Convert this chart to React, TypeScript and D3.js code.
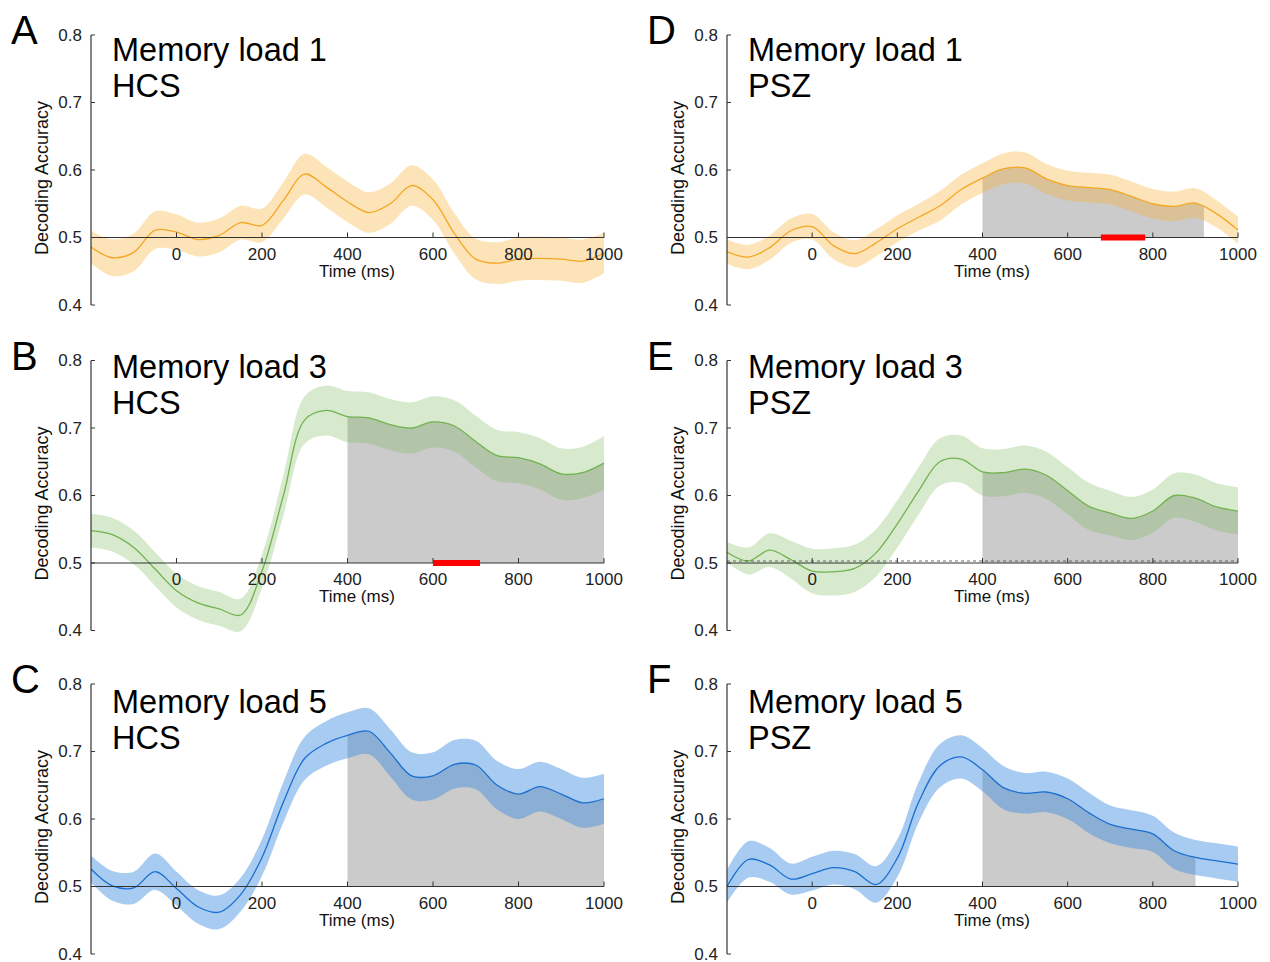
import React, { useEffect, useRef } from 'react';
import * as d3 from 'd3';

// time grid (ms) shared by every series
const times = [-200, -150, -100, -50, 0, 50, 100, 150, 200, 250, 300, 350, 400, 450, 500, 550, 600, 650, 700, 750, 800, 850, 900, 950, 1000];
const xTicks = [0, 200, 400, 600, 800, 1000];
const yTicks = [0.4, 0.5, 0.6, 0.7, 0.8];

// Memory load 1
const meanA = [0.486, 0.470, 0.478, 0.511, 0.508, 0.497, 0.503, 0.522, 0.518, 0.555, 0.594, 0.575, 0.553, 0.537, 0.550, 0.577, 0.556, 0.506, 0.468, 0.462, 0.468, 0.469, 0.468, 0.465, 0.477];
const errA = [0.024, 0.027, 0.028, 0.028, 0.026, 0.025, 0.025, 0.025, 0.025, 0.027, 0.030, 0.030, 0.030, 0.030, 0.030, 0.030, 0.030, 0.030, 0.030, 0.031, 0.032, 0.032, 0.032, 0.032, 0.030];
const meanD = [0.479, 0.471, 0.485, 0.510, 0.516, 0.488, 0.476, 0.492, 0.513, 0.530, 0.547, 0.571, 0.588, 0.602, 0.603, 0.587, 0.577, 0.574, 0.571, 0.561, 0.550, 0.546, 0.551, 0.535, 0.511];
const errD = [0.018, 0.018, 0.018, 0.018, 0.019, 0.020, 0.020, 0.020, 0.020, 0.020, 0.022, 0.022, 0.022, 0.023, 0.023, 0.022, 0.022, 0.022, 0.022, 0.022, 0.022, 0.022, 0.022, 0.020, 0.020];

// Memory load 3
const meanB = [0.548, 0.542, 0.523, 0.491, 0.459, 0.441, 0.432, 0.423, 0.488, 0.600, 0.712, 0.726, 0.717, 0.715, 0.705, 0.700, 0.709, 0.703, 0.680, 0.659, 0.656, 0.647, 0.632, 0.634, 0.648];
const errB = [0.025, 0.025, 0.025, 0.025, 0.025, 0.025, 0.025, 0.024, 0.025, 0.030, 0.035, 0.037, 0.038, 0.038, 0.038, 0.038, 0.038, 0.038, 0.038, 0.038, 0.038, 0.038, 0.038, 0.038, 0.040];
const meanE = [0.516, 0.503, 0.519, 0.505, 0.488, 0.487, 0.492, 0.515, 0.558, 0.607, 0.650, 0.654, 0.635, 0.634, 0.639, 0.630, 0.607, 0.584, 0.574, 0.566, 0.577, 0.600, 0.596, 0.583, 0.577];
const errE = [0.015, 0.020, 0.025, 0.028, 0.033, 0.035, 0.035, 0.035, 0.035, 0.035, 0.035, 0.035, 0.035, 0.035, 0.035, 0.035, 0.035, 0.035, 0.033, 0.032, 0.032, 0.033, 0.035, 0.035, 0.035];

// Memory load 5
const meanC = [0.526, 0.501, 0.498, 0.522, 0.497, 0.470, 0.462, 0.488, 0.543, 0.625, 0.690, 0.712, 0.724, 0.730, 0.698, 0.664, 0.664, 0.681, 0.680, 0.650, 0.637, 0.648, 0.637, 0.624, 0.630];
const errC = [0.020, 0.022, 0.024, 0.027, 0.025, 0.025, 0.025, 0.025, 0.027, 0.030, 0.032, 0.033, 0.034, 0.034, 0.035, 0.035, 0.035, 0.036, 0.036, 0.036, 0.037, 0.037, 0.037, 0.037, 0.037];
const meanF = [0.500, 0.540, 0.532, 0.511, 0.519, 0.528, 0.522, 0.503, 0.542, 0.625, 0.679, 0.692, 0.673, 0.646, 0.638, 0.640, 0.630, 0.609, 0.592, 0.585, 0.578, 0.553, 0.543, 0.538, 0.533];
const errF = [0.024, 0.027, 0.025, 0.023, 0.025, 0.025, 0.026, 0.027, 0.028, 0.030, 0.032, 0.032, 0.032, 0.032, 0.030, 0.030, 0.030, 0.030, 0.028, 0.028, 0.027, 0.027, 0.026, 0.026, 0.026];

// significant windows (gray) and group-difference bars (red), in ms
const sigB = [400, 1000];
const sigC = [400, 1000];
const sigD = [400, 920];
const sigE = [400, 1000];
const sigF = [400, 900];
const redB = [600, 710];
const redD = [678, 782];

const colors = {
  '1': { line: '#f5a623', band: '#f9b233', alpha: 0.35 },
  '3': { line: '#72b24f', band: '#7cba5a', alpha: 0.3 },
  '5': { line: '#1a6fd0', band: '#3d8fe0', alpha: 0.45 },
};

const panels = [
  { id: 'A', load: '1', group: 'HCS', col: 0, row: 0, mean: meanA, err: errA, sig: null, red: null },
  { id: 'B', load: '3', group: 'HCS', col: 0, row: 1, mean: meanB, err: errB, sig: sigB, red: redB },
  { id: 'C', load: '5', group: 'HCS', col: 0, row: 2, mean: meanC, err: errC, sig: sigC, red: null },
  { id: 'D', load: '1', group: 'PSZ', col: 1, row: 0, mean: meanD, err: errD, sig: sigD, red: redD },
  { id: 'E', load: '3', group: 'PSZ', col: 1, row: 1, mean: meanE, err: errE, sig: sigE, red: null },
  { id: 'F', load: '5', group: 'PSZ', col: 1, row: 2, mean: meanF, err: errF, sig: sigF, red: null },
];

const FONT = '"Liberation Sans", Arial, Helvetica, sans-serif';

const App = () => {
  const svgRef = useRef<SVGSVGElement>(null);

  useEffect(() => {
    document.body.style.margin = '0';
    const svg = d3.select(svgRef.current);
    svg.selectAll('*').remove();

    const colX = [[91, 604], [727, 1238]];
    const rowTop = [35, 360.5, 684];
    const titleBase = [61, 378, 713];

    panels.forEach((p) => {
      const [x0, x1] = colX[p.col];
      const top = rowTop[p.row];
      const x = d3.scaleLinear().domain([-200, 1000]).range([x0, x1]);
      const y = d3.scaleLinear().domain([0.4, 0.8]).range([top + 270, top]);
      const c = colors[p.load];
      const pts = times.map((t, i) => ({ t, m: p.mean[i], e: p.err[i] }));
      const curve = d3.curveCatmullRom.alpha(0.5);
      const g = svg.append('g');

      // gray fill from chance to the mean within the significant window
      if (p.sig) {
        const clipId = `clip-${p.id}`;
        svg.append('clipPath').attr('id', clipId)
          .append('rect')
          .attr('x', x(p.sig[0])).attr('y', top - 10)
          .attr('width', x(p.sig[1]) - x(p.sig[0])).attr('height', 300);
        g.append('path')
          .datum(pts)
          .attr('clip-path', `url(#${clipId})`)
          .attr('fill', '#cbcbcb')
          .attr('d', d3.area<any>().x(d => x(d.t)).y0(y(0.5)).y1(d => y(d.m)).curve(curve));
      }

      // error band
      g.append('path')
        .datum(pts)
        .attr('fill', c.band)
        .attr('fill-opacity', c.alpha)
        .attr('d', d3.area<any>().x(d => x(d.t)).y0(d => y(d.m - d.e)).y1(d => y(d.m + d.e)).curve(curve));

      // mean line
      g.append('path')
        .datum(pts)
        .attr('fill', 'none')
        .attr('stroke', c.line)
        .attr('stroke-width', 1.3)
        .attr('d', d3.line<any>().x(d => x(d.t)).y(d => y(d.m)).curve(curve));

      // x axis at chance level
      g.append('line')
        .attr('x1', x0).attr('x2', x1).attr('y1', y(0.5)).attr('y2', y(0.5))
        .attr('stroke', '#333').attr('stroke-width', 1.2);
      if (p.id === 'E') {
        g.append('line')
          .attr('x1', x0).attr('x2', x1).attr('y1', y(0.5) - 2).attr('y2', y(0.5) - 2)
          .attr('stroke', '#444').attr('stroke-width', 0.8).attr('stroke-dasharray', '3,3');
      }
      xTicks.forEach((t) => {
        g.append('line')
          .attr('x1', x(t)).attr('x2', x(t)).attr('y1', y(0.5)).attr('y2', y(0.5) - 5)
          .attr('stroke', '#333').attr('stroke-width', 1);
        g.append('text')
          .attr('x', x(t)).attr('y', y(0.5) + 22)
          .attr('text-anchor', 'middle')
          .style('font-family', FONT).style('font-size', '17px').style('fill', '#222')
          .text(t);
      });
      g.append('text')
        .attr('x', x(422)).attr('y', y(0.5) + 39)
        .attr('text-anchor', 'middle')
        .style('font-family', FONT).style('font-size', '17px').style('fill', '#111')
        .text('Time (ms)');

      // red bar
      if (p.red) {
        g.append('rect')
          .attr('x', x(p.red[0])).attr('y', y(0.5) - 3)
          .attr('width', x(p.red[1]) - x(p.red[0])).attr('height', 6)
          .attr('fill', '#ff0000');
      }

      // y axis
      g.append('line')
        .attr('x1', x0).attr('x2', x0).attr('y1', y(0.8)).attr('y2', y(0.4))
        .attr('stroke', '#333').attr('stroke-width', 1.2);
      yTicks.forEach((v) => {
        g.append('line')
          .attr('x1', x0).attr('x2', x0 + 4).attr('y1', y(v)).attr('y2', y(v))
          .attr('stroke', '#333').attr('stroke-width', 1);
        g.append('text')
          .attr('x', x0 - 9).attr('y', y(v) + 5.5)
          .attr('text-anchor', 'end')
          .style('font-family', FONT).style('font-size', '17px').style('fill', '#222')
          .text(v.toFixed(1));
      });
      g.append('text')
        .attr('transform', `translate(${x0 - 43},${(y(0.8) + y(0.4)) / 2 + 8}) rotate(-90)`)
        .attr('text-anchor', 'middle')
        .style('font-family', FONT).style('font-size', '18px').style('fill', '#111')
        .text('Decoding Accuracy');

      // titles and panel letter
      g.append('text')
        .attr('x', x0 + 21).attr('y', titleBase[p.row])
        .style('font-family', FONT).style('font-size', '32.5px').style('fill', '#000')
        .text(`Memory load ${p.load}`);
      g.append('text')
        .attr('x', x0 + 21).attr('y', titleBase[p.row] + 36)
        .style('font-family', FONT).style('font-size', '32.5px').style('fill', '#000')
        .text(p.group);
      g.append('text')
        .attr('x', x0 - 80).attr('y', top + 9)
        .style('font-family', FONT).style('font-size', '40px').style('fill', '#000')
        .text(p.id);
    });
  }, []);

  return <svg ref={svgRef} width={1270} height={962} style={{ display: 'block', background: '#fff' }}></svg>;
};

export default App;
